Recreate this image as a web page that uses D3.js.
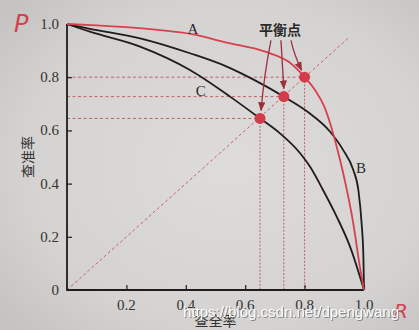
<!DOCTYPE html>
<html><head><meta charset="utf-8">
<script src="https://cdn.jsdelivr.net/npm/d3@7"></script>
<style>html,body{margin:0;padding:0;background:#d6d4d2;}svg{display:block;}</style>
</head><body><svg id="c" width="419" height="330"></svg>
<script>
// ---- data ----
const curveA_x = [0, 0.1, 0.2, 0.313, 0.42, 0.538, 0.67, 0.75, 0.8, 0.835, 0.866, 0.886, 0.902, 0.93, 0.964, 0.986, 1.0];
const curveA_y = [1.0, 0.995, 0.988, 0.977, 0.962, 0.93, 0.895, 0.855, 0.8, 0.752, 0.69, 0.627, 0.564, 0.439, 0.25, 0.088, 0];
const curveB_x = [0, 0.077, 0.246, 0.414, 0.538, 0.63, 0.73, 0.81, 0.886, 0.93, 0.964, 0.981, 0.992, 0.998, 1.0];
const curveB_y = [1.0, 0.982, 0.946, 0.89, 0.84, 0.79, 0.727, 0.67, 0.595, 0.526, 0.451, 0.376, 0.25, 0.125, 0];
const curveC_x = [0, 0.077, 0.246, 0.414, 0.549, 0.65, 0.717, 0.785, 0.818, 0.862, 0.908, 0.953, 1.0];
const curveC_y = [1.0, 0.971, 0.915, 0.827, 0.727, 0.645, 0.589, 0.514, 0.464, 0.376, 0.276, 0.163, 0];
const balanceX = [0.65, 0.73, 0.8];
const balanceY = [0.645, 0.727, 0.8];
const xTicks = [0.2, 0.4, 0.6, 0.8, 1.0];
const xTickLabels = ["0.2", "0.4", "0.6", "0.8", "1.0"];
const yTicks = [0, 0.2, 0.4, 0.6, 0.8, 1.0];
const yTickLabels = ["0", "0.2", "0.4", "0.6", "0.8", "1.0"];
const curveLabels = ["A", "B", "C"];
const curveLabelX = [0.424, 0.99, 0.45];
const curveLabelY = [0.98, 0.46, 0.75];
const balanceLabel = "平衡点";
const xTitle = "查全率";
const yTitle = "查准率";
const diagEnd = 0.95;

// ---- drawing ----
const W = 419, H = 330;
const svg = d3.select("#c");
const defs = svg.append("defs");
const bg = defs.append("radialGradient").attr("id","bg").attr("cx","55%").attr("cy","50%").attr("r","70%");
bg.append("stop").attr("offset","0%").attr("stop-color","#dedcda");
bg.append("stop").attr("offset","70%").attr("stop-color","#d5d3d1");
bg.append("stop").attr("offset","100%").attr("stop-color","#c6c4c2");
svg.append("rect").attr("width",W).attr("height",H).attr("fill","url(#bg)");

defs.append("marker").attr("id","arr").attr("viewBox","0 0 10 10").attr("refX",9).attr("refY",5)
  .attr("markerWidth",7).attr("markerHeight",7).attr("orient","auto-start-reverse")
  .append("path").attr("d","M0,1 L10,5 L0,9 Z").attr("fill","#9c2f3c");
defs.append("filter").attr("id","sh").attr("x","-5%").attr("y","-30%").attr("width","110%").attr("height","160%")
  .append("feDropShadow").attr("dx",1).attr("dy",1).attr("stdDeviation",0.6)
  .attr("flood-color","#666").attr("flood-opacity",0.7);

const x = d3.scaleLinear().domain([0,1]).range([67,364]);
const y = d3.scaleLinear().domain([0,1]).range([290,24]);

const red = "#d8404e", black = "#1e1c1c", dash = "#c2535c";
const serif = "'Liberation Serif','DejaVu Serif',serif";

// diagonal
svg.append("line").attr("x1",x(0)).attr("y1",y(0)).attr("x2",x(diagEnd)).attr("y2",y(diagEnd))
  .attr("stroke",dash).attr("stroke-width",0.9).attr("stroke-dasharray","3,2.5");

// dashed guides
balanceX.forEach((bx,i)=>{
  const by = balanceY[i];
  svg.append("line").attr("x1",x(0)).attr("y1",y(by)).attr("x2",x(bx)).attr("y2",y(by))
    .attr("stroke",dash).attr("stroke-width",0.9).attr("stroke-dasharray","3,2.5");
  svg.append("line").attr("x1",x(bx)).attr("y1",y(by)).attr("x2",x(bx)).attr("y2",y(0))
    .attr("stroke",dash).attr("stroke-width",0.9).attr("stroke-dasharray","2,1.6");
});

// axes
const xAxis = d3.axisBottom(x).tickValues(xTicks).tickFormat("").tickSize(-5);
const yAxis = d3.axisLeft(y).tickValues(yTicks.filter(v=>v>0 && v<1)).tickFormat("").tickSize(-5);
const gx = svg.append("g").attr("transform",`translate(0,${y(0)})`).call(xAxis);
const gy = svg.append("g").attr("transform",`translate(${x(0)},0)`).call(yAxis);
[gx,gy].forEach(g=>{
  g.select(".domain").remove();
  g.selectAll(".tick line").attr("stroke",black).attr("stroke-width",1.2);
});
svg.append("path").attr("d",`M${x(0)},${y(1)}V${y(0)}H${x(1)}`).attr("fill","none")
  .attr("stroke",black).attr("stroke-width",1.8);

// tick labels
svg.selectAll(".xl").data(xTicks).enter().append("text")
  .attr("x",d=>x(d)).attr("y",y(0)+20).attr("text-anchor","middle")
  .attr("font-family",serif).attr("font-size",15).attr("fill","#333")
  .text((d,i)=>xTickLabels[i]);
svg.selectAll(".yl").data(yTicks).enter().append("text")
  .attr("x",x(0)-8).attr("y",d=>y(d)+5).attr("text-anchor","end")
  .attr("font-family",serif).attr("font-size",15).attr("fill","#333")
  .text((d,i)=>yTickLabels[i]);

// curves
const line = d3.line().x(d=>x(d[0])).y(d=>y(d[1])).curve(d3.curveMonotoneX);
const zip = (a,b)=>a.map((v,i)=>[v,b[i]]);
svg.append("path").attr("d",line(zip(curveC_x,curveC_y))).attr("fill","none").attr("stroke",black).attr("stroke-width",1.8);
svg.append("path").attr("d",line(zip(curveB_x,curveB_y))).attr("fill","none").attr("stroke",black).attr("stroke-width",1.8);
svg.append("path").attr("d",line(zip(curveA_x,curveA_y))).attr("fill","none").attr("stroke",red).attr("stroke-width",1.8);

// balance points
svg.selectAll(".bp").data(balanceX).enter().append("circle")
  .attr("cx",d=>x(d)).attr("cy",(d,i)=>y(balanceY[i])).attr("r",5.5).attr("fill","#d33b4a");

// curve labels
svg.selectAll(".cl").data(curveLabels).enter().append("text")
  .attr("x",(d,i)=>x(curveLabelX[i])).attr("y",(d,i)=>y(curveLabelY[i])+5).attr("text-anchor","middle")
  .attr("font-family",serif).attr("font-size",15).attr("fill","#2a2a2a").text(d=>d);

// balance label and arrows
const lx = x(0.717), ly = y(0.98);
svg.append("text").attr("x",lx).attr("y",ly+6).attr("text-anchor","middle")
  .attr("font-family","'Noto Sans CJK SC',sans-serif").attr("font-weight","bold").attr("font-size",14)
  .attr("fill","#2a2a2a").text(balanceLabel);
const starts = [-9, 1, 11];
balanceX.forEach((bx,i)=>{
  const sx = lx + starts[i], sy = ly + 11;
  const ex = x(bx) + [1, 0, -3][i], ey = y(balanceY[i]) - [8, 8, 7][i];
  const mx = (sx+ex)/2 + [-2, 0, -2][i], my = (sy+ey)/2;
  svg.append("path").attr("d",`M${sx},${sy}Q${mx},${my} ${ex},${ey}`).attr("fill","none")
    .attr("stroke","#9c2f3c").attr("stroke-width",1.3).attr("marker-end","url(#arr)");
});

// axis titles
svg.append("text").attr("transform",`translate(33,${y(0.5)}) rotate(-90)`).attr("text-anchor","middle")
  .attr("font-family","'Noto Sans CJK SC',sans-serif").attr("font-size",14).attr("fill","#333").text(yTitle);
svg.append("text").attr("x",x(0.5)).attr("y",326).attr("text-anchor","middle")
  .attr("font-family","'Noto Sans CJK SC',sans-serif").attr("font-size",14).attr("fill","#333").text(xTitle);

// handwritten P / R
svg.append("text").attr("x",14).attr("y",32).attr("font-family","'DejaVu Sans',sans-serif").attr("font-style","italic")
  .attr("font-size",24).attr("fill","#d44050").text("P");
svg.append("text").attr("x",394).attr("y",318).attr("font-family","'DejaVu Sans',sans-serif").attr("font-style","italic")
  .attr("font-size",20).attr("fill","#d44050").text("R");

// watermark
svg.append("text").attr("x",183).attr("y",317).attr("font-family","'Liberation Sans',Arial,sans-serif")
  .attr("font-size",15).attr("fill","#fafafa").attr("filter","url(#sh)").text("https://blog.csdn.net/dpengwang");
</script></body></html>
